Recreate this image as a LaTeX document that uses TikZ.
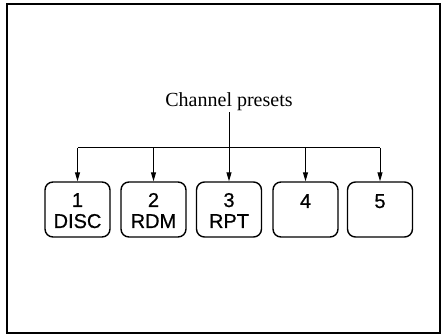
\documentclass[tikz,border=0pt]{standalone}
\usepackage{fontspec}
\setmainfont{Liberation Serif}
\setsansfont{Liberation Sans}
\newfontfamily\btnfont[FakeBold=0.6]{Liberation Sans}
\usetikzlibrary{arrows.meta}
\begin{document}
\begin{tikzpicture}[x=1pt,y=-1pt,
  btn/.style={draw,line width=1.4pt,rounded corners=8pt,minimum width=65pt,minimum height=55pt,inner sep=0pt},
  num/.style={font=\btnfont\fontsize{20}{20}\selectfont,anchor=base,inner sep=0pt},
  lab/.style={font=\btnfont\fontsize{20}{20}\selectfont,anchor=base,inner sep=0pt},
  conn/.style={line width=1pt,-{Triangle[length=9pt,width=5pt]}},
  bus/.style={line width=1pt}]
\useasboundingbox (0,0) rectangle (444,336);
\draw[line width=1.4pt] (7,4) rectangle (440,333);
\node[font=\fontsize{20}{20}\selectfont,anchor=base,inner sep=1pt] (title) at (229,107) {Channel presets};
\node[btn] (b1) at (77.5,209.5) {};
\node[btn] (b2) at (153.5,209.5) {};
\node[btn] (b3) at (229,209.5) {};
\node[btn] (b4) at (305.5,209.5) {};
\node[btn] (b5) at (380,209.5) {};
\node[num] (n1) at (77.5,207) {1};
\node[lab] (l1) at (77.5,228) {DISC};
\node[num] (n2) at (153.5,207) {2};
\node[lab] (l2) at (153.5,228) {RDM};
\node[num] (n3) at (229,207) {3};
\node[lab] (l3) at (229,228) {RPT};
\node[num] (n4) at (305.5,208) {4};
\node[num] (n5) at (380,208) {5};
\coordinate (bl) at (77.5,148);
\coordinate (br) at (380,148);
\draw[bus] (bl) -- (br);
\draw[conn] (title.south -| b3.north) -- (b3.north);
\draw[conn] (bl) -- (b1.north);
\draw[conn] (bl -| b2.north) -- (b2.north);
\draw[conn] (bl -| b4.north) -- (b4.north);
\draw[conn] (br) -- (b5.north);
\end{tikzpicture}
\end{document}
